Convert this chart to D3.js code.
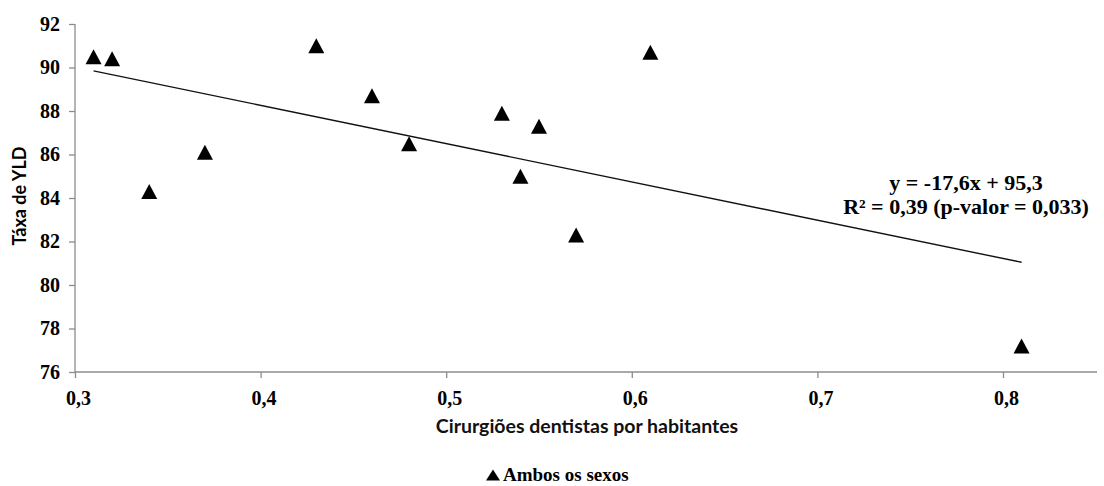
<!DOCTYPE html>
<html>
<head>
<meta charset="utf-8">
<script src="https://cdn.jsdelivr.net/npm/d3@7"></script>
<style>
  html, body { margin: 0; padding: 0; background: #fff; }
  svg { display: block; }
</style>
</head>
<body>
<svg id="chart" width="1104" height="486"></svg>
<script>
// Dentists per inhabitant vs. YLD rate, both sexes
const dentistas = [0.31, 0.32, 0.34, 0.37, 0.43, 0.46, 0.48, 0.53, 0.54, 0.55, 0.57, 0.61, 0.81];
const taxaYLD   = [90.5, 90.4, 84.3, 86.1, 91.0, 88.7, 86.5, 87.9, 85.0, 87.3, 82.3, 90.7, 77.2];
const xTicks = [0.3, 0.4, 0.5, 0.6, 0.7, 0.8];
const yTicks = [76, 78, 80, 82, 84, 86, 88, 90, 92];
const slope = -17.6, intercept = 95.3;
const trendRange = [0.31, 0.81];
const equationLines = ["y = -17,6x + 95,3", "R² = 0,39 (p-valor = 0,033)"];
const seriesName = "Ambos os sexos";

const svg = d3.select("#chart");
const margin = { left: 75, top: 24, bottom: 372 };
const xEnd = 1097;

const x = d3.scaleLinear().domain([0.3, 0.8]).range([75, 1003]);
const y = d3.scaleLinear().domain([76, 92]).range([372, 24]);

const serif = "'Liberation Serif', 'Times New Roman', serif";
const sans = "Lato, 'Open Sans', sans-serif";
const axisColor = "#8c8c8c";

// x axis
const xAxis = svg.append("g").attr("transform", `translate(0,${margin.bottom})`)
  .call(d3.axisBottom(x).tickValues(xTicks).tickSize(6).tickPadding(13)
    .tickFormat(d => d3.format(".1f")(d).replace(".", ",")))
  .attr("font-family", serif).attr("font-size", 20).attr("font-weight", "bold");
xAxis.select(".domain").remove();
xAxis.append("line").attr("x1", margin.left).attr("x2", xEnd).attr("y1", 0).attr("y2", 0)
  .attr("stroke", axisColor).attr("stroke-width", 1.3);
xAxis.selectAll(".tick line").attr("stroke", axisColor).attr("stroke-width", 1.3);
xAxis.selectAll(".tick text").attr("fill", "#000").attr("dx", 3);

// y axis
const yAxis = svg.append("g").attr("transform", `translate(${margin.left},0)`)
  .call(d3.axisLeft(y).tickValues(yTicks).tickSize(6).tickPadding(9).tickFormat(d3.format("d")))
  .attr("font-family", serif).attr("font-size", 20).attr("font-weight", "bold");
yAxis.select(".domain").attr("stroke", axisColor).attr("stroke-width", 1.3)
  .attr("d", `M0,${margin.top}V${margin.bottom}`);
yAxis.selectAll(".tick line").attr("stroke", axisColor).attr("stroke-width", 1.3);
yAxis.selectAll(".tick text").attr("fill", "#000");

// axis titles
svg.append("text")
  .attr("transform", `translate(26,${(margin.top + margin.bottom) / 2 - 2}) rotate(-90)`)
  .attr("text-anchor", "middle")
  .attr("font-family", sans).attr("font-weight", "bold").attr("font-size", 18)
  .text("Táxa de YLD");

svg.append("text")
  .attr("x", 587).attr("y", 433)
  .attr("text-anchor", "middle")
  .attr("font-family", sans).attr("font-weight", "bold").attr("font-size", 19.5)
  .attr("fill", "#111")
  .text("Cirurgiões dentistas por habitantes");

// trend line
svg.append("line")
  .attr("x1", x(trendRange[0])).attr("y1", y(slope * trendRange[0] + intercept))
  .attr("x2", x(trendRange[1])).attr("y2", y(slope * trendRange[1] + intercept))
  .attr("stroke", "#111").attr("stroke-width", 1.4);

// markers: triangles centred on their bounding box
const triPath = (w, h) => `M0,${-h / 2}L${w / 2},${h / 2}L${-w / 2},${h / 2}Z`;
svg.append("g").selectAll("path")
  .data(dentistas.map((d, i) => [d, taxaYLD[i]]))
  .join("path")
  .attr("d", triPath(16, 15))
  .attr("transform", d => `translate(${x(d[0])},${y(d[1])})`)
  .attr("fill", "#000");

// regression equation
const eq = svg.append("text").attr("text-anchor", "middle")
  .attr("font-family", serif).attr("font-weight", "bold").attr("font-size", 22);
eq.selectAll("tspan").data(equationLines).join("tspan")
  .attr("x", 966).attr("y", (d, i) => 190 + i * 24).text(d => d);

// legend
svg.append("path").attr("d", triPath(14, 11))
  .attr("transform", "translate(493,475)").attr("fill", "#000");
svg.append("text").attr("x", 503).attr("y", 481)
  .attr("font-family", serif).attr("font-weight", "bold").attr("font-size", 19)
  .text(seriesName);
</script>
</body>
</html>
